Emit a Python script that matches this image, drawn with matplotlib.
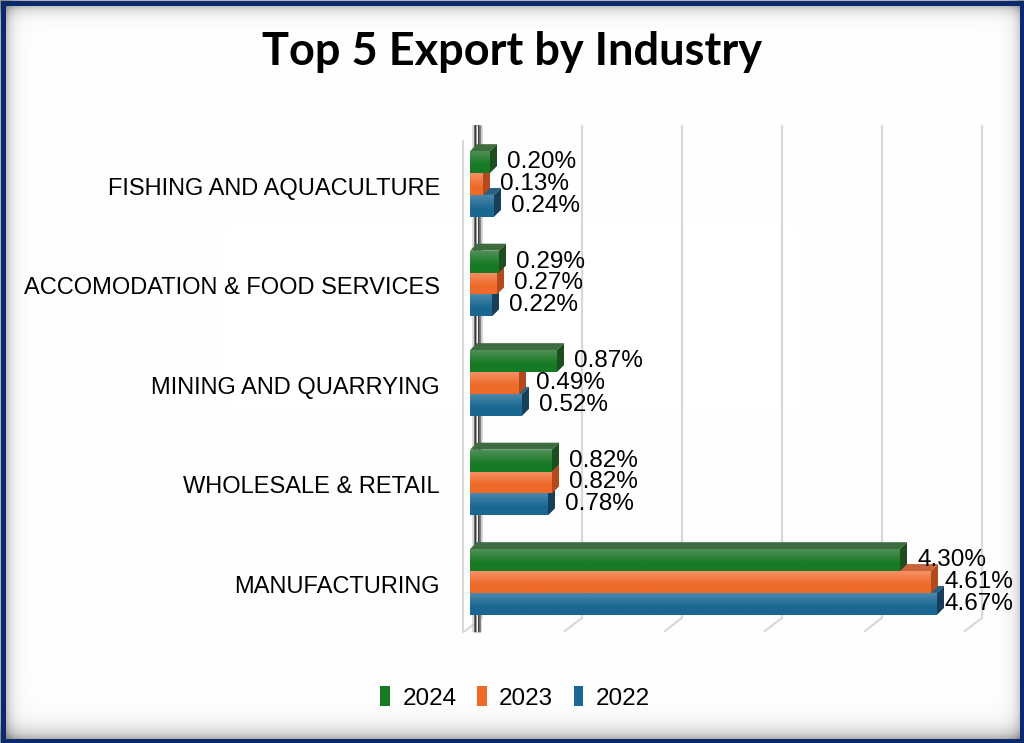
import numpy as np
import matplotlib
matplotlib.use("Agg")
import matplotlib.pyplot as plt
from matplotlib.patches import Rectangle, Polygon
from matplotlib.colors import to_rgb

# chart data (top to bottom as shown)
industries = ["FISHING AND AQUACULTURE", "ACCOMODATION & FOOD SERVICES",
              "MINING AND QUARRYING", "WHOLESALE & RETAIL", "MANUFACTURING"]
years = ["2024", "2023", "2022"]
val_2024 = [0.20, 0.29, 0.87, 0.82, 4.30]
val_2023 = [0.13, 0.27, 0.49, 0.82, 4.61]
val_2022 = [0.24, 0.22, 0.52, 0.78, 4.67]
grid_ticks = [0, 1, 2, 3, 4, 5]

front = {"2024": "#177a24", "2023": "#ee6a28", "2022": "#1a6792"}
light = {"2024": "#4f8f55", "2023": "#f59066", "2022": "#4b88aa"}
side = {"2024": "#1c4e20", "2023": "#b24a1e", "2022": "#173f5a"}
topc = {"2024": "#3c6c40", "2023": "#c8643a", "2022": "#2a5f80"}

plt.rcParams['font.family'] = ['Liberation Sans', 'DejaVu Sans']

fig = plt.figure(figsize=(10.24, 7.43), dpi=100)

# background with inner shadow and navy frame
bg = fig.add_axes([0, 0, 1, 1], zorder=0)
bg.set_xlim(0, 1024)
bg.set_ylim(743, 0)
bg.axis("off")
yy, xx = np.mgrid[0:743, 0:1024].astype(float)
dark = (0.28 * np.exp(-np.clip(yy - 5, 0, None) / 6)
        + 0.28 * np.exp(-np.clip(xx - 5, 0, None) / 6)
        + 0.30 * np.exp(-np.clip(738 - yy, 0, None) / 9)
        + 0.18 * np.exp(-np.clip(1019 - xx, 0, None) / 6))
gray = 1 - np.clip(dark, 0, 0.45)
bg.imshow(np.dstack([gray] * 3), extent=[0, 1024, 743, 0], aspect="auto", zorder=1)
bg.add_patch(Rectangle((2.5, 2.5), 1019, 738, fill=False, edgecolor="#0b2a6e",
                       linewidth=5 * 0.72, zorder=3))
bg.text(512, 52, "Top 5 Export by Industry", ha="center", va="center",
        fontsize=32.5, fontweight="bold", family=["Lato", "DejaVu Sans"])

ax = fig.add_axes([440 / 1024, (743 - 640) / 743, 560 / 1024, 520 / 743], zorder=2)
ax.set_xlim(-0.3, 5.3)
ax.set_ylim(-0.583, 4.643)
ax.patch.set_alpha(0)
for s in ax.spines.values():
    s.set_visible(False)
ax.set_xticks([])

n = len(industries)
ypos = np.arange(n)[::-1]
ax.set_yticks([])
for i, name in enumerate(industries):
    ax.text(-0.3, ypos[i] - 0.05, name, ha="right", va="center", fontsize=17)

# 3d walls and gridlines
dx, dy = 0.07, 0.07
y_top, y_back, y_front = 4.59, -0.36, -0.50
for g in grid_ticks:
    ax.plot([g + 0.12, g + 0.12, g - 0.06], [y_top, y_back, y_front],
            color="#d9d9d9", lw=1.6, zorder=1, solid_capstyle="butt")
ax.plot([-0.07, -0.07], [y_front, 4.43], color="#cfcfcf", lw=1.2, zorder=1)
# left wall seen edge-on: soft dark strip with a light core
for lw, col, a in [(7, "#bdbdbd", 0.6), (5, "#6a6a6a", 0.8), (3.2, "#2e2e2e", 1.0),
                   (1.6, "#9a9a9a", 1.0), (0.8, "#f4f4f4", 1.0)]:
    ax.plot([0.065, 0.065], [-0.50, 4.59], color=col, lw=lw, alpha=a, zorder=1.1,
            solid_capstyle="butt")

series = {"2024": val_2024, "2023": val_2023, "2022": val_2022}
bar_h = 0.22
offsets = {"2024": bar_h, "2023": 0.0, "2022": -bar_h}
label_right = 5.43

renderer = fig.canvas.get_renderer()

# draw bottom bar first in each group so upper bars cover hidden faces
z = 3
for i in range(n):
    for yr in ["2022", "2023", "2024"]:
        v = series[yr][i]
        yc = ypos[i] + offsets[yr]
        y0, y1 = yc - bar_h / 2, yc + bar_h / 2
        ax.add_patch(Polygon([[0, y1], [v, y1], [v + dx, y1 + dy], [dx, y1 + dy]],
                             closed=True, facecolor=topc[yr], edgecolor="none", zorder=z))
        ax.add_patch(Polygon([[v, y0], [v + dx, y0 + dy], [v + dx, y1 + dy], [v, y1]],
                             closed=True, facecolor=side[yr], edgecolor="none", zorder=z))
        c1, c2 = np.array(to_rgb(light[yr])), np.array(to_rgb(front[yr]))
        t = np.clip(np.linspace(0, 1.6, 30), 0, 1).reshape(-1, 1, 1)
        grad = c1 * (1 - t) + c2 * t
        grad = np.repeat(grad, 2, axis=1)
        ax.imshow(grad, extent=[0, v, y0, y1], aspect="auto", origin="upper",
                  zorder=z + 0.1, interpolation="bilinear")
        lab = ax.text(v + 0.17, yc, f"{v:.2f}%", ha="left", va="center", fontsize=17.5,
                      zorder=z + 0.5)
        # keep labels inside the chart area like Excel does
        w = lab.get_window_extent(renderer).width / 100.0
        if v + 0.17 + w > label_right:
            lab.set_x(max(label_right - w, v + 0.05))
        z += 1

ax.set_xlim(-0.3, 5.3)
ax.set_ylim(-0.583, 4.643)

# legend
handles = [Rectangle((0, 0), 1, 1, facecolor=front[yr]) for yr in years]
fig.legend(handles, years, loc="center", bbox_to_anchor=(0.503, (743 - 698) / 743),
           ncol=3, frameon=False, fontsize=17.5, handlelength=0.4, handleheight=0.85,
           handletextpad=0.5, columnspacing=0.85)

fig.savefig("out.png", dpi=100)
